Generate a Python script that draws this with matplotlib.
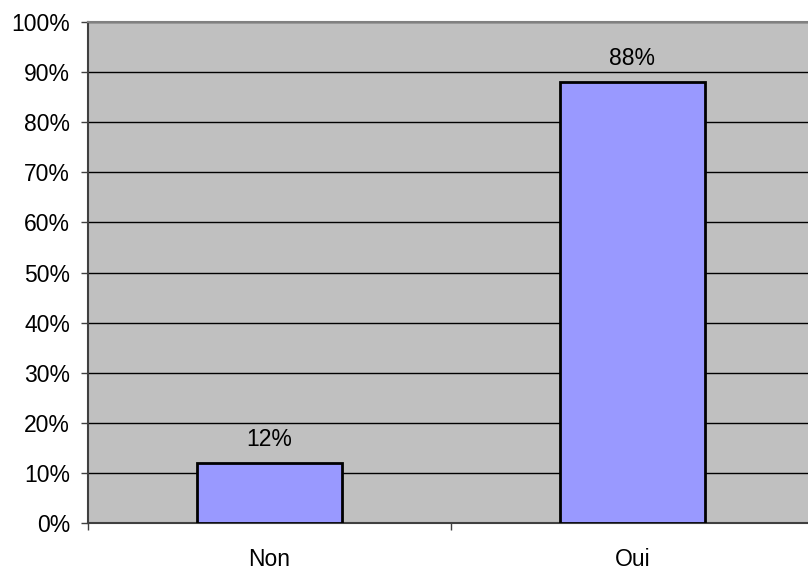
import matplotlib
matplotlib.use("Agg")
import matplotlib.pyplot as plt
from matplotlib.ticker import FixedLocator

categories = ["Non", "Oui"]
values = [12, 88]
value_labels = ["12%", "88%"]
yticks = [0, 10, 20, 30, 40, 50, 60, 70, 80, 90, 100]
ytick_labels = [f"{v}%" for v in yticks]

plt.rcParams['font.family'] = ['Liberation Sans', 'DejaVu Sans']
FS = 16.5

W, H = 808, 571
fig = plt.figure(figsize=(W / 100, H / 100), dpi=100)
left, right, top, bottom = 88, 814, 22, 523
ax = fig.add_axes([left / W, 1 - bottom / H, (right - left) / W, (bottom - top) / H])
ax.set_facecolor("#C0C0C0")

x = list(range(len(categories)))
ax.bar(x, values, width=0.4, color="#9999FF", edgecolor="black", linewidth=2, zorder=3)

for xi, v, lab in zip(x, values, value_labels):
    ax.annotate(lab, (xi, v), xytext=(0, 8.5), textcoords="offset points",
                ha="center", va="bottom", fontsize=FS, color="black")

ax.set_xlim(-0.5, len(categories) - 0.5)
ax.set_ylim(0, 100)
ax.set_yticks(yticks)
ax.set_yticklabels(ytick_labels, fontsize=FS)
ax.set_xticks(x)
ax.set_xticklabels(categories, fontsize=FS)
ax.xaxis.set_minor_locator(FixedLocator([-0.5, 0.5, 1.5]))
ax.tick_params(axis="x", which="major", length=0, pad=18)
ax.tick_params(axis="x", which="minor", length=5, width=1, color="#404040")
ax.tick_params(axis="y", length=5, width=1, color="#404040", pad=8)

ax.yaxis.grid(True, color="black", linewidth=1, zorder=1)
ax.set_axisbelow(True)

for s in ["left", "bottom"]:
    ax.spines[s].set_color("#404040")
    ax.spines[s].set_linewidth(1.5)
ax.spines["top"].set_color("#808080")
ax.spines["top"].set_linewidth(1.5)
ax.spines["right"].set_visible(False)

fig.savefig("out.png", dpi=100)
